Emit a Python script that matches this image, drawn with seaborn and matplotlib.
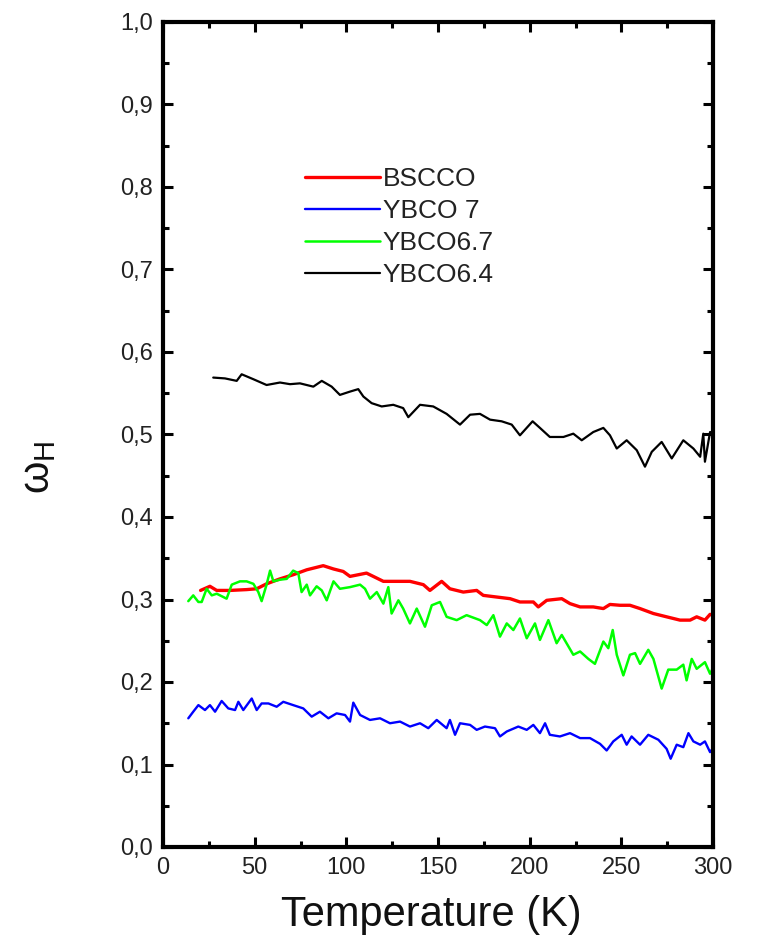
import numpy as np
import pandas as pd
import matplotlib
matplotlib.use("Agg")
import matplotlib.pyplot as plt
import seaborn as sns
from matplotlib.ticker import MultipleLocator, FuncFormatter

# ---- data ----
t_bscco = [20.5, 25.6, 29.3, 36.5, 45.6, 51.1, 56.5, 63.8, 71.0, 78.4, 87.4, 93.0, 98.3, 102.0,
           111.0, 114.7, 120.2, 127.5, 134.7, 142.0, 145.6, 152.0, 156.5, 163.8, 171.1, 174.7,
           182.0, 189.3, 194.7, 202.0, 204.7, 209.3, 217.5, 222.0, 227.5, 234.7, 240.2, 243.8,
           249.3, 254.7, 260.2, 267.5, 274.7, 282.0, 287.5, 291.1, 295.6, 298.4, 300.0]
w_bscco = [0.311, 0.316, 0.311, 0.311, 0.312, 0.313, 0.319, 0.325, 0.330, 0.336, 0.341, 0.337,
           0.334, 0.328, 0.332, 0.328, 0.322, 0.322, 0.322, 0.318, 0.311, 0.322, 0.313, 0.309,
           0.311, 0.305, 0.303, 0.301, 0.297, 0.297, 0.291, 0.299, 0.301, 0.295, 0.291, 0.291,
           0.289, 0.294, 0.293, 0.293, 0.289, 0.283, 0.279, 0.275, 0.275, 0.279, 0.275, 0.282,
           0.281]

t_ybco7 = [13.8, 16.5, 19.3, 22.9, 25.6, 28.4, 32.0, 35.6, 39.3, 41.1, 43.8, 48.4, 51.1, 53.8,
           57.5, 62.0, 65.6, 71.0, 76.5, 81.1, 85.6, 90.2, 94.7, 99.3, 102.0, 103.8, 107.5,
           112.9, 118.4, 123.8, 129.3, 134.7, 140.2, 144.7, 149.3, 154.7, 156.5, 159.3, 162.0,
           167.5, 171.1, 175.6, 181.1, 183.8, 187.5, 193.8, 198.4, 202.0, 205.6, 208.4, 211.0,
           216.5, 222.0, 227.5, 232.9, 238.4, 242.0, 245.6, 250.2, 252.9, 255.6, 260.2, 264.7,
           270.2, 274.7, 276.9, 280.2, 283.8, 286.6, 289.3, 293.0, 295.6, 298.4, 300.0]
w_ybco7 = [0.156, 0.164, 0.172, 0.166, 0.172, 0.164, 0.177, 0.168, 0.166, 0.176, 0.166, 0.180,
           0.166, 0.174, 0.174, 0.170, 0.176, 0.172, 0.168, 0.158, 0.164, 0.156, 0.162, 0.160,
           0.152, 0.175, 0.160, 0.154, 0.156, 0.150, 0.152, 0.146, 0.150, 0.144, 0.154, 0.144,
           0.154, 0.136, 0.150, 0.148, 0.142, 0.146, 0.144, 0.134, 0.140, 0.146, 0.142, 0.148,
           0.138, 0.150, 0.136, 0.134, 0.138, 0.132, 0.132, 0.125, 0.117, 0.128, 0.136, 0.124,
           0.134, 0.124, 0.136, 0.130, 0.119, 0.107, 0.124, 0.121, 0.138, 0.128, 0.124, 0.128,
           0.115, 0.120]

t_ybco67 = [13.8, 16.5, 19.3, 21.1, 23.8, 26.6, 29.3, 34.7, 37.5, 42.0, 45.6, 49.3, 52.0, 53.8,
            56.5, 58.4, 60.2, 63.8, 67.5, 71.0, 73.8, 75.6, 78.4, 80.2, 83.8, 86.6, 89.3, 93.0,
            96.5, 102.0, 107.5, 110.2, 112.9, 116.6, 120.2, 122.9, 124.7, 128.4, 131.0, 134.7,
            138.4, 142.9, 146.6, 151.1, 154.7, 160.2, 165.6, 172.9, 176.6, 180.2, 183.8, 187.5,
            191.1, 194.7, 198.4, 202.9, 205.6, 210.2, 214.7, 217.5, 223.8, 227.5, 232.0, 235.6,
            240.2, 242.9, 245.3, 247.5, 251.1, 254.7, 257.5, 260.2, 264.7, 267.5, 272.0, 275.6,
            280.2, 283.8, 285.6, 288.4, 291.1, 295.6, 298.4, 300.0]
w_ybco67 = [0.298, 0.305, 0.297, 0.297, 0.313, 0.305, 0.307, 0.301, 0.318, 0.322, 0.322, 0.319,
            0.309, 0.298, 0.318, 0.335, 0.322, 0.324, 0.325, 0.335, 0.332, 0.309, 0.318, 0.305,
            0.316, 0.311, 0.299, 0.322, 0.313, 0.315, 0.318, 0.313, 0.301, 0.309, 0.295, 0.315,
            0.283, 0.299, 0.289, 0.271, 0.289, 0.267, 0.293, 0.297, 0.279, 0.275, 0.281, 0.275,
            0.269, 0.281, 0.255, 0.271, 0.263, 0.277, 0.253, 0.271, 0.251, 0.275, 0.247, 0.257,
            0.233, 0.237, 0.228, 0.222, 0.249, 0.241, 0.263, 0.233, 0.208, 0.233, 0.235, 0.222,
            0.239, 0.228, 0.192, 0.215, 0.215, 0.221, 0.202, 0.228, 0.216, 0.224, 0.210, 0.217]

t_ybco64 = [27.4, 33.8, 40.2, 42.9, 49.3, 56.5, 63.8, 69.3, 74.7, 82.0, 86.6, 92.0, 96.5, 102.0,
            106.5, 109.3, 113.8, 119.3, 125.6, 131.0, 133.8, 140.2, 147.4, 154.7, 162.0, 167.5,
            172.9, 178.4, 184.7, 190.2, 194.7, 201.6, 205.6, 211.0, 218.4, 223.8, 228.4, 234.7,
            240.2, 243.8, 247.5, 252.9, 258.4, 262.9, 266.6, 272.0, 277.5, 283.8, 289.3, 293.0,
            294.7, 295.6, 298.4, 300.0]
w_ybco64 = [0.569, 0.568, 0.565, 0.573, 0.567, 0.560, 0.563, 0.561, 0.562, 0.558, 0.565, 0.558,
            0.548, 0.552, 0.555, 0.546, 0.538, 0.534, 0.536, 0.532, 0.521, 0.536, 0.534, 0.525,
            0.512, 0.524, 0.525, 0.518, 0.516, 0.512, 0.499, 0.516, 0.508, 0.497, 0.497, 0.501,
            0.493, 0.503, 0.508, 0.499, 0.483, 0.493, 0.481, 0.461, 0.479, 0.491, 0.471, 0.493,
            0.483, 0.473, 0.501, 0.467, 0.503, 0.502]

labels = ["BSCCO", "YBCO 7", "YBCO6.7", "YBCO6.4"]
colors = ["#ff0000", "#0000ff", "#00ff00", "#000000"]
widths = [2.4, 1.7, 1.8, 1.6]
series = [(t_bscco, w_bscco), (t_ybco7, w_ybco7), (t_ybco67, w_ybco67), (t_ybco64, w_ybco64)]

sns.set_theme(style="ticks")
plt.rcParams["font.family"] = ["Liberation Sans", "DejaVu Sans"]
plt.rcParams["mathtext.fontset"] = "custom"
plt.rcParams["mathtext.rm"] = "Liberation Sans"
plt.rcParams["mathtext.it"] = "Liberation Sans:italic"

fig = plt.figure(figsize=(7.57, 9.5), dpi=100)
ax = fig.add_axes([163 / 757, 1 - 847 / 950, 550 / 757, 825 / 950])

for (t, w), lab, c, lw in zip(series, labels, colors, widths):
    df = pd.DataFrame({"T": t, "w": w})
    sns.lineplot(data=df, x="T", y="w", ax=ax, color=c, lw=lw, label=lab,
                 sort=False, estimator=None)

ax.set_xlim(0, 300)
ax.set_ylim(0, 1.0)
ax.xaxis.set_major_locator(MultipleLocator(50))
ax.xaxis.set_minor_locator(MultipleLocator(25))
ax.yaxis.set_major_locator(MultipleLocator(0.1))
ax.yaxis.set_minor_locator(MultipleLocator(0.05))
ax.yaxis.set_major_formatter(FuncFormatter(lambda v, p: f"{v:.1f}".replace(".", ",")))
ax.xaxis.set_major_formatter(FuncFormatter(lambda v, p: f"{v:.0f}"))

for s in ax.spines.values():
    s.set_linewidth(3.0)
    s.set_color("black")
    s.set_visible(True)

ax.tick_params(which="both", direction="in", top=True, right=True, color="black")
ax.tick_params(which="major", length=7, width=2.2, labelsize=17, pad=7, labelcolor="#222222")
ax.tick_params(which="minor", length=4.5, width=2.2)

ax.set_xlabel("Temperature (K)", fontsize=30, color="#111111")
ax.set_ylabel(r"$\mathrm{\omega}_{\mathrm{H}}$", fontsize=30, color="#111111")
ax.xaxis.set_label_coords(0.488, -0.058)
ax.yaxis.set_label_coords(-0.19, 0.46)

leg = ax.legend(loc="upper left", bbox_to_anchor=((305 - 163) / 550, (847 - 167) / 825),
                frameon=False, fontsize=19, handlelength=2.85, handletextpad=0.1,
                labelspacing=0.3, borderpad=0, borderaxespad=0)
for txt in leg.get_texts():
    txt.set_color("#222222")

fig.savefig("out.png", dpi=100)
